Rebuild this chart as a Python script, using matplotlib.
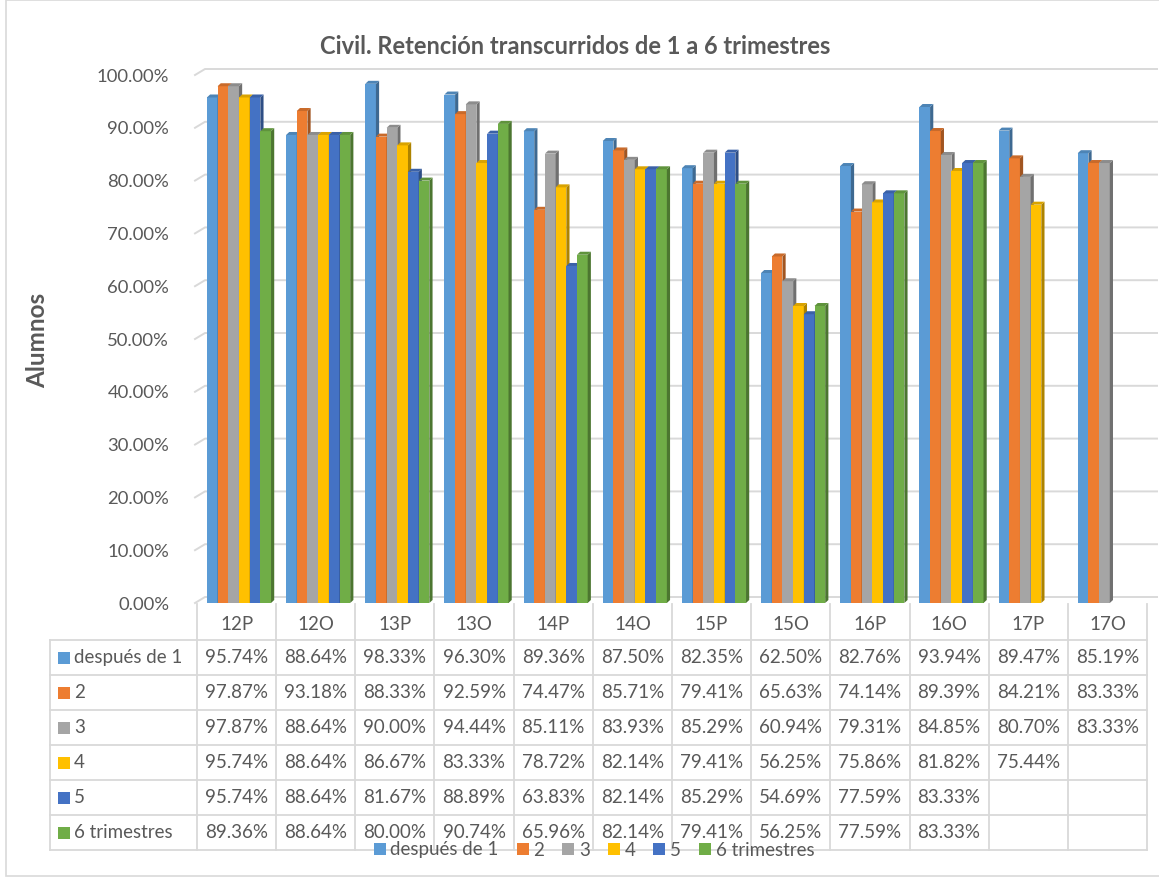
import matplotlib
matplotlib.use("Agg")
import matplotlib.pyplot as plt
from matplotlib.patches import Polygon, Rectangle
from matplotlib.transforms import blended_transform_factory
import matplotlib.colors as mcolors

categories = ["12P", "12O", "13P", "13O", "14P", "14O", "15P", "15O", "16P", "16O", "17P", "17O"]
series_names = ["después de 1", "2", "3", "4", "5", "6 trimestres"]
despues_de_1 = [95.74, 88.64, 98.33, 96.30, 89.36, 87.50, 82.35, 62.50, 82.76, 93.94, 89.47, 85.19]
s2 = [97.87, 93.18, 88.33, 92.59, 74.47, 85.71, 79.41, 65.63, 74.14, 89.39, 84.21, 83.33]
s3 = [97.87, 88.64, 90.00, 94.44, 85.11, 83.93, 85.29, 60.94, 79.31, 84.85, 80.70, 83.33]
s4 = [95.74, 88.64, 86.67, 83.33, 78.72, 82.14, 79.41, 56.25, 75.86, 81.82, 75.44, None]
s5 = [95.74, 88.64, 81.67, 88.89, 63.83, 82.14, 85.29, 54.69, 77.59, 83.33, None, None]
s6 = [89.36, 88.64, 80.00, 90.74, 65.96, 82.14, 79.41, 56.25, 77.59, 83.33, None, None]
series = [despues_de_1, s2, s3, s4, s5, s6]
colors = ["#5B9BD5", "#ED7D31", "#A5A5A5", "#FFC000", "#4472C4", "#70AD47"]
yticks = [0, 10, 20, 30, 40, 50, 60, 70, 80, 90, 100]

W, H = 1159, 882
fig = plt.figure(figsize=(W / 100, H / 100), dpi=100)
plt.rcParams['font.family'] = ['Lato', 'DejaVu Sans']
txt = "#595959"
gridc = "#D9D9D9"
fs = 13.5

def fx(px):
    return px / W

def fy(py):
    return 1 - py / H

ax_l, ax_r, ax_b, ax_t = 197, 1147, 603, 75
ax = fig.add_axes([fx(ax_l), fy(ax_b), fx(ax_r - ax_l), fy(ax_t) - fy(ax_b)])
ax.set_xlim(-0.5, len(categories) - 0.5)
ax.set_ylim(0, 100)
for s in ax.spines.values():
    s.set_visible(False)
ax.set_xticks([])
ax.set_yticks(yticks)
ax.set_yticklabels([f"{v:.2f}%" for v in yticks], fontsize=13.3, color=txt)
ax.tick_params(axis='y', length=0, pad=20)

xpp = (len(categories)) / (ax_r - ax_l)   # data x per pixel
ypp = 100 / (ax_b - ax_t)                  # data y per pixel

# gridlines (3D back wall look)
for v in yticks:
    ax.plot([-0.5 - 2 * xpp, -0.5 + 8 * xpp, len(categories) - 0.5 + 10 * xpp],
            [v, v + 6 * ypp, v + 6 * ypp], color=gridc, lw=1.4, clip_on=False, zorder=0)

# bars
bw = 0.135
off = 0.03
dx, dy = 3.2 * xpp, 3.0 * ypp
for j, (vals, c) in enumerate(zip(series, colors)):
    rgb = mcolors.to_rgb(c)
    side = tuple(x * 0.68 for x in rgb)
    top = tuple(x * 0.85 for x in rgb)
    for i, v in enumerate(vals):
        if v is None:
            continue
        x0 = i + (j - 2.5) * bw - bw / 2 + off
        ax.bar(x0, v, width=bw, align='edge', color=c, zorder=2 + j * 0.01, linewidth=0)
        ax.add_patch(Polygon([(x0 + bw, 0), (x0 + bw + dx, dy), (x0 + bw + dx, v + dy), (x0 + bw, v)],
                             closed=True, facecolor=side, edgecolor='none', zorder=2 + j * 0.01))
        ax.add_patch(Polygon([(x0, v), (x0 + dx, v + dy), (x0 + bw + dx, v + dy), (x0 + bw, v)],
                             closed=True, facecolor=top, edgecolor='none', zorder=2 + j * 0.01))

# title and y label
fig.text(fx(575), fy(46), "Civil. Retención transcurridos de 1 a 6 trimestres", ha='center', va='center',
         fontsize=17, fontweight='bold', color=txt)
fig.text(fx(38), fy(340), "Alumnos", rotation=90, ha='center', va='center', fontsize=17.5,
         fontweight='bold', color=txt)

# data table
tr = blended_transform_factory(ax.transData, fig.transFigure)
lab_left = -0.5 + (50 - ax_l) * xpp
header_top, header_bot = 604, 640
row_h = 35
nrows = len(series)
table_bot = header_bot + row_h * nrows
for k in range(len(categories) + 1):
    xk = k - 0.5
    ax.plot([xk, xk], [fy(header_top), fy(table_bot)], color=gridc, lw=1.3, transform=tr, clip_on=False)
ax.plot([lab_left, lab_left], [fy(header_bot), fy(table_bot)], color=gridc, lw=1.3, transform=tr, clip_on=False)
for r in range(nrows + 1):
    yy = fy(header_bot + r * row_h)
    ax.plot([lab_left, len(categories) - 0.5], [yy, yy], color=gridc, lw=1.3, transform=tr, clip_on=False)
for i, c in enumerate(categories):
    ax.text(i, fy((header_top + header_bot) / 2 + 2), c, transform=tr, ha='center', va='center',
            fontsize=fs, color=txt)
for r, (name, vals, c) in enumerate(zip(series_names, series, colors)):
    yc = fy(header_bot + r * row_h + row_h / 2)
    ax.add_patch(Rectangle((lab_left + 8 * xpp, yc - 6 / H), 12 * xpp, 12 / H, transform=tr,
                           facecolor=c, edgecolor='none', clip_on=False))
    ax.text(lab_left + 24 * xpp, yc, name, transform=tr, ha='left', va='center', fontsize=fs, color=txt)
    for i, v in enumerate(vals):
        if v is None:
            continue
        ax.text(i, yc, f"{v:.2f}%", transform=tr, ha='center', va='center', fontsize=fs, color=txt)

# legend
handles = [Rectangle((0, 0), 1, 1, facecolor=c, edgecolor='none') for c in colors]
leg = fig.legend(handles, series_names, loc='center', bbox_to_anchor=(fx(594), fy(850)), ncol=6,
                 frameon=False, fontsize=fs, handlelength=0.65, handleheight=0.65,
                 handletextpad=0.25, columnspacing=0.95, labelcolor=txt, borderpad=0)

# chart border
fig.patches.append(Rectangle((fx(6), fy(876)), fx(1160 - 6), fy(0) - fy(876), transform=fig.transFigure,
                             facecolor='none', edgecolor=gridc, lw=1.2))

fig.savefig("out.png", dpi=100, facecolor='white')
